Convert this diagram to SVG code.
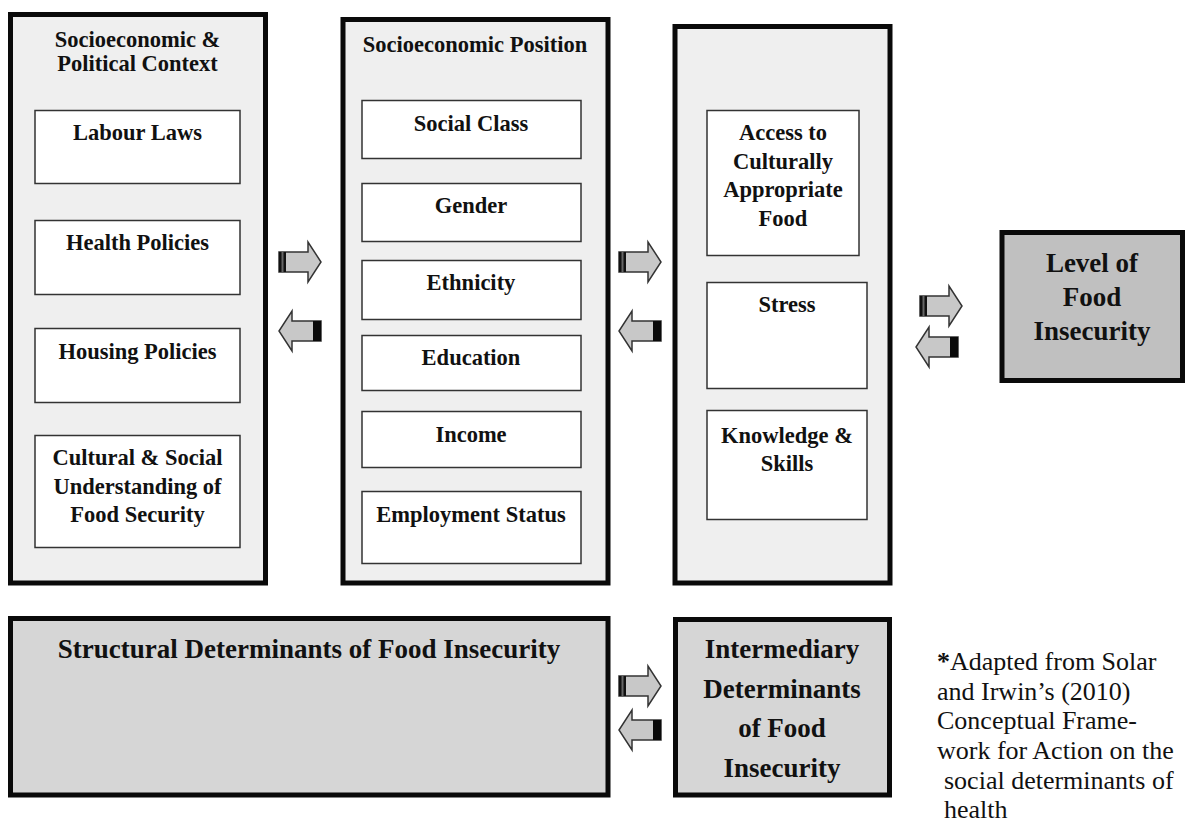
<svg xmlns="http://www.w3.org/2000/svg" width="1188" height="825" viewBox="0 0 1188 825">
<style>
.outer{fill:#efefef;stroke:#0a0a0a;stroke-width:5}
.dark{fill:#c0c0c0;stroke:#0a0a0a;stroke-width:5}
.mid{fill:#d6d6d6;stroke:#0a0a0a;stroke-width:5}
.inner{fill:#ffffff;stroke:#333;stroke-width:1.5}
text{font-family:"Liberation Serif","Times New Roman",serif;fill:#111;text-anchor:middle}
.b{font-weight:bold;font-size:22.5px}
.bl{font-weight:bold;font-size:27px}
.note{font-size:26px;text-anchor:start}
.arr{fill:#c8c8c8;stroke:#333;stroke-width:1.5;stroke-linejoin:miter}
</style>
<defs>
<g id="ar">
<path class="arr" d="M-21,-10 H8 V-20 L21,0 L8,20 V10 H-21 Z"/>
<rect x="-21" y="-10" width="7" height="20" fill="#111"/>
<rect x="-18.5" y="-10" width="2" height="20" fill="#666"/>
</g>
<g id="al">
<path class="arr" d="M21,-10 H-8 V-20 L-21,0 L-8,20 V10 H21 Z"/>
<rect x="13" y="-10" width="8" height="20" fill="#0a0a0a"/>
</g>
</defs>

<g id="structural-context">
<rect class="outer" x="10.5" y="14.5" width="255" height="568.5"/>
<text class="b" x="137.5" y="47">Socioeconomic &amp;</text>
<text class="b" x="137.5" y="71">Political Context</text>
</g>
<g id="labour-laws"><rect class="inner" x="35" y="110.5" width="205" height="73"/><text class="b" x="137.5" y="140">Labour Laws</text></g>
<g id="health-policies"><rect class="inner" x="35" y="220.5" width="205" height="74"/><text class="b" x="137.5" y="250">Health Policies</text></g>
<g id="housing-policies"><rect class="inner" x="35" y="328.5" width="205" height="74"/><text class="b" x="137.5" y="359">Housing Policies</text></g>
<g id="cultural-understanding"><rect class="inner" x="35" y="435.5" width="205" height="112"/>
<text class="b" x="137.5" y="465">Cultural &amp; Social</text>
<text class="b" x="137.5" y="494">Understanding of</text>
<text class="b" x="137.5" y="522">Food Security</text></g>

<g id="socioeconomic-position">
<rect class="outer" x="343" y="19.5" width="265" height="563.5"/>
<text class="b" x="475" y="52">Socioeconomic Position</text>
</g>
<g id="social-class"><rect class="inner" x="362" y="100.5" width="219" height="58"/><text class="b" x="471" y="131">Social Class</text></g>
<g id="gender"><rect class="inner" x="362" y="183.5" width="219" height="58"/><text class="b" x="471" y="213">Gender</text></g>
<g id="ethnicity"><rect class="inner" x="362" y="260.5" width="219" height="59"/><text class="b" x="471" y="290">Ethnicity</text></g>
<g id="education"><rect class="inner" x="362" y="335.5" width="219" height="55"/><text class="b" x="471" y="365">Education</text></g>
<g id="income"><rect class="inner" x="362" y="411.5" width="219" height="56"/><text class="b" x="471" y="442">Income</text></g>
<g id="employment-status"><rect class="inner" x="362" y="491.5" width="219" height="72"/><text class="b" x="471" y="522">Employment Status</text></g>

<g id="intermediary-factors">
<rect class="outer" x="675" y="26.5" width="215" height="556.5"/>
</g>
<g id="access-food"><rect class="inner" x="707" y="110.5" width="152" height="145"/>
<text class="b" x="783" y="140">Access to</text>
<text class="b" x="783" y="169">Culturally</text>
<text class="b" x="783" y="197">Appropriate</text>
<text class="b" x="783" y="226">Food</text></g>
<g id="stress"><rect class="inner" x="707" y="282.5" width="160" height="106"/><text class="b" x="787" y="312">Stress</text></g>
<g id="knowledge-skills"><rect class="inner" x="707" y="410.5" width="160" height="109"/>
<text class="b" x="787" y="443">Knowledge &amp;</text>
<text class="b" x="787" y="471">Skills</text></g>

<g id="level-food-insecurity">
<rect class="dark" x="1002" y="232.5" width="180.5" height="148"/>
<text class="bl" x="1092" y="272">Level of</text>
<text class="bl" x="1092" y="306">Food</text>
<text class="bl" x="1092" y="340">Insecurity</text>
</g>

<g id="structural-determinants">
<rect class="mid" x="10.5" y="618.5" width="597.5" height="176.5"/>
<text class="bl" x="309" y="658">Structural Determinants of Food Insecurity</text>
</g>
<g id="intermediary-determinants">
<rect class="mid" x="675.5" y="619.5" width="214" height="175.5"/>
<text class="bl" x="782" y="658">Intermediary</text>
<text class="bl" x="782" y="698">Determinants</text>
<text class="bl" x="782" y="737">of Food</text>
<text class="bl" x="782" y="777">Insecurity</text>
</g>

<g id="footnote">
<text class="note" x="937" y="670"><tspan font-weight="bold">*</tspan>Adapted from Solar</text>
<text class="note" x="937" y="700">and Irwin’s (2010)</text>
<text class="note" x="937" y="729">Conceptual Frame-</text>
<text class="note" x="937" y="759">work for Action on the</text>
<text class="note" x="944" y="789">social determinants of</text>
<text class="note" x="944" y="818">health</text>
</g>

<g id="connectors">
<use href="#ar" x="300" y="262"/>
<use href="#al" x="300" y="331"/>
<use href="#ar" x="640" y="262"/>
<use href="#al" x="640" y="331"/>
<use href="#ar" x="941" y="306"/>
<use href="#al" x="937" y="347"/>
<use href="#ar" x="640" y="686"/>
<use href="#al" x="640" y="730"/>
</g>
</svg>
